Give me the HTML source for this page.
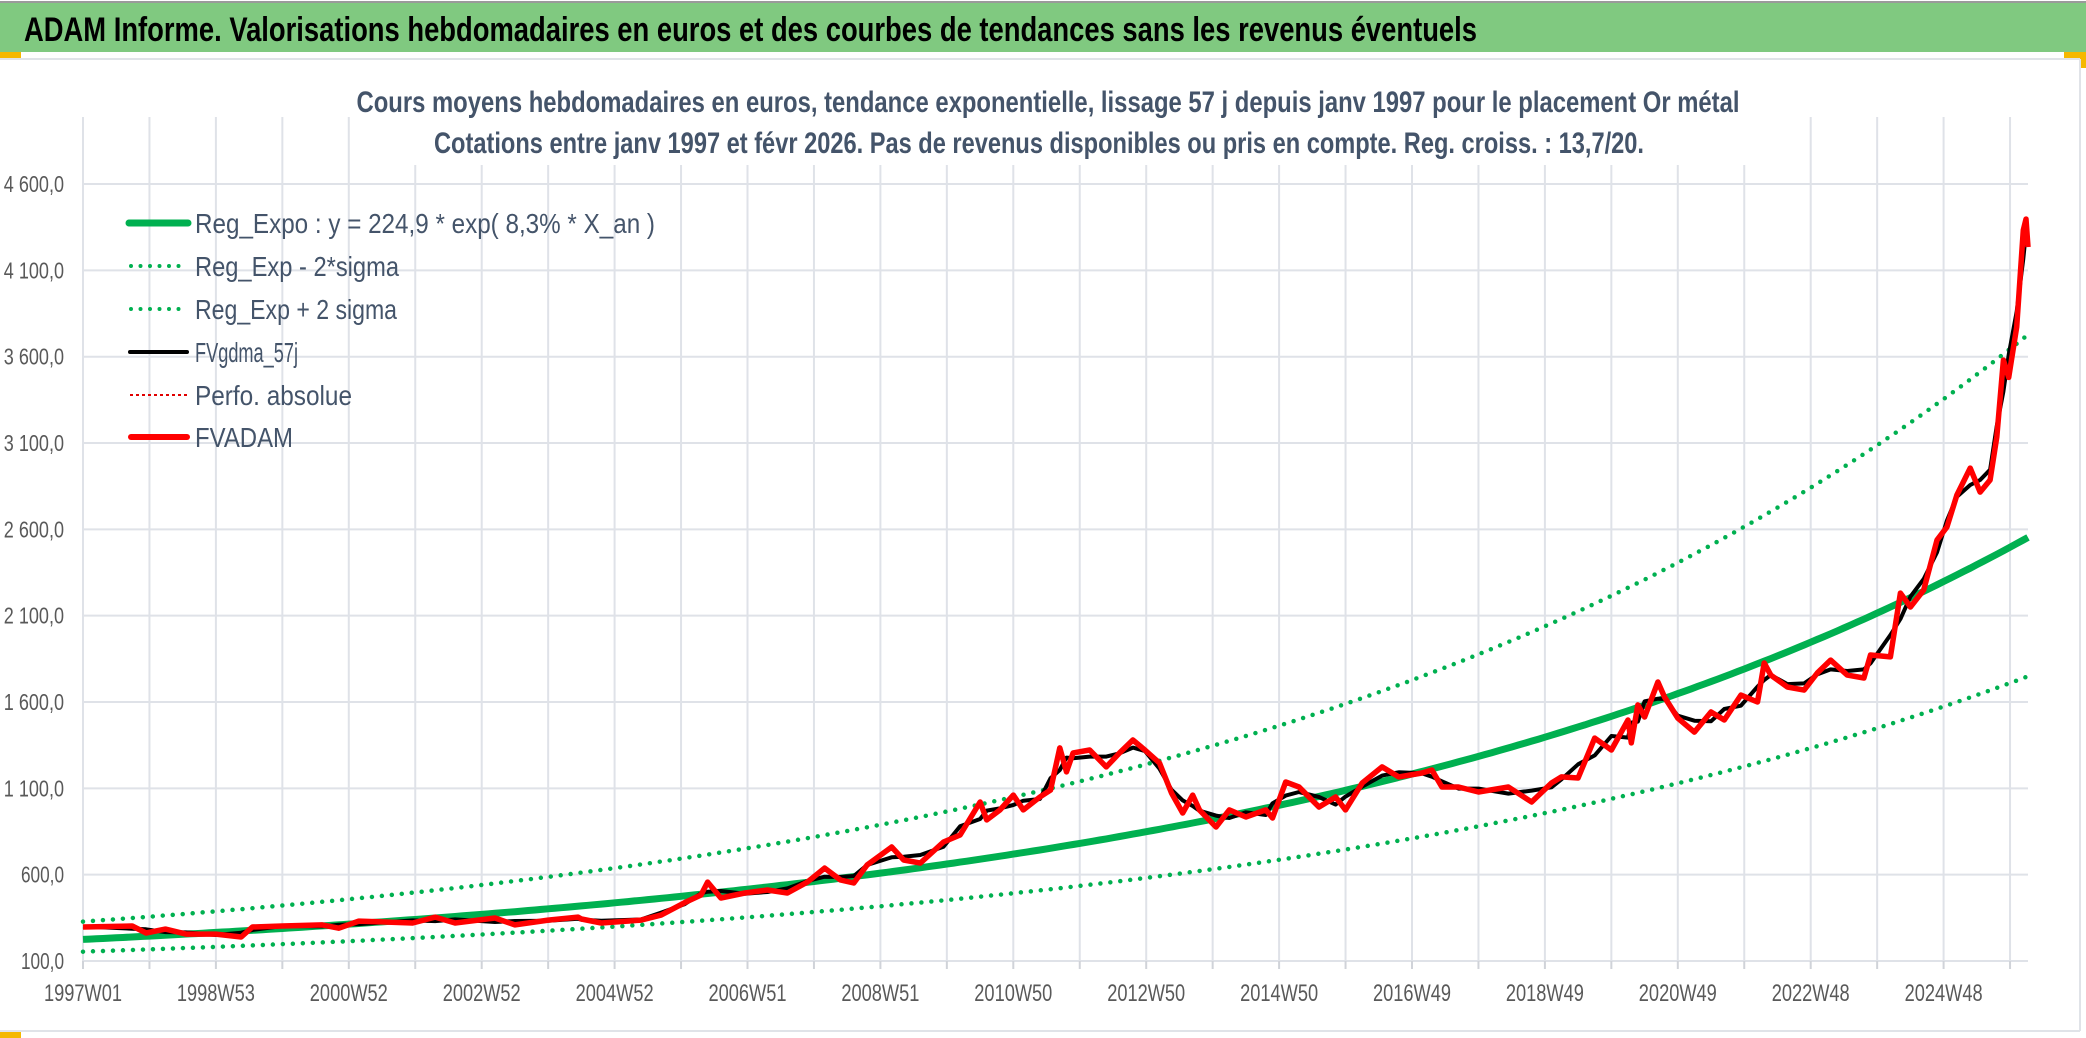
<!DOCTYPE html>
<html><head><meta charset="utf-8"><style>
html,body{margin:0;padding:0;background:#fff;}
svg{display:block;}
text{font-family:"Liberation Sans Narrow","Liberation Sans",sans-serif;}
</style></head><body>
<svg id="chart" width="2086" height="1038" viewBox="0 0 2086 1038" xmlns="http://www.w3.org/2000/svg">
  <rect x="0" y="0" width="2086" height="1038" fill="#fff"/>
  <rect x="0" y="2" width="2086" height="50" fill="#80c980"/>
  <line x1="0" y1="2" x2="2086" y2="2" stroke="#9a9a9a" stroke-width="2"/>
  <text x="24" y="41" font-size="34" font-weight="bold" fill="#000" textLength="1453" lengthAdjust="spacingAndGlyphs">ADAM Informe. Valorisations hebdomadaires en euros et des courbes de tendances sans les revenus éventuels</text>
  <rect x="0" y="52" width="21" height="6" fill="#f5b800"/>
  <rect x="2064" y="52" width="22" height="6" fill="#f5b800"/>
  <rect x="2080" y="52" width="6" height="16" fill="#f5b800"/>
  <line x1="0" y1="59" x2="2080" y2="59" stroke="#e0e3e8" stroke-width="2"/>
  <line x1="2080" y1="59" x2="2080" y2="1031" stroke="#e0e3e8" stroke-width="2"/>
  <line x1="0" y1="1031" x2="2080" y2="1031" stroke="#e0e3e8" stroke-width="2"/>
  <rect x="0" y="1032" width="21" height="6" fill="#f5b800"/>
  <g id="grid"></g>
  <rect x="350" y="62" width="1400" height="103" fill="#fff"/>
  <text x="1048" y="112" font-size="30" font-weight="bold" fill="#44546a" text-anchor="middle" textLength="1383" lengthAdjust="spacingAndGlyphs">Cours moyens hebdomadaires en euros, tendance exponentielle, lissage 57 j depuis janv 1997 pour le placement Or métal</text>
  <text x="1039" y="153" font-size="30" font-weight="bold" fill="#44546a" text-anchor="middle" textLength="1210" lengthAdjust="spacingAndGlyphs">Cotations entre janv 1997 et févr 2026. Pas de revenus disponibles ou pris en compte. Reg. croiss. : 13,7/20.</text>
  <g id="axes"></g>
  <g id="series"></g>
  <g id="legend">
    <g>
      <line x1="129" y1="223" x2="188" y2="223" stroke="#00b050" stroke-width="7" stroke-linecap="round"/>
      <text x="195" y="233" font-size="28" fill="#44546a" textLength="460" lengthAdjust="spacingAndGlyphs">Reg_Expo : y = 224,9 * exp( 8,3% *  X_an )</text>
    </g>
    <g>
      <line x1="131" y1="266" x2="188" y2="266" stroke="#00b050" stroke-width="4" stroke-linecap="round" stroke-dasharray="0 9.5"/>
      <text x="195" y="276" font-size="28" fill="#44546a" textLength="204" lengthAdjust="spacingAndGlyphs">Reg_Exp - 2*sigma</text>
    </g>
    <g>
      <line x1="131" y1="309" x2="188" y2="309" stroke="#00b050" stroke-width="4" stroke-linecap="round" stroke-dasharray="0 9.5"/>
      <text x="195" y="319" font-size="28" fill="#44546a" textLength="202" lengthAdjust="spacingAndGlyphs">Reg_Exp + 2 sigma</text>
    </g>
    <g>
      <line x1="130" y1="352" x2="187" y2="352" stroke="#000" stroke-width="4" stroke-linecap="round"/>
      <text x="195" y="362" font-size="28" fill="#44546a" textLength="103" lengthAdjust="spacingAndGlyphs">FVgdma_57j</text>
    </g>
    <g>
      <line x1="130" y1="395" x2="188" y2="395" stroke="#e00000" stroke-width="2" stroke-dasharray="3 3"/>
      <text x="195" y="405" font-size="28" fill="#44546a" textLength="157" lengthAdjust="spacingAndGlyphs">Perfo. absolue</text>
    </g>
    <g>
      <line x1="131" y1="437" x2="187" y2="437" stroke="#ff0000" stroke-width="6" stroke-linecap="round"/>
      <text x="195" y="447" font-size="28" fill="#44546a" textLength="98" lengthAdjust="spacingAndGlyphs">FVADAM</text>
    </g>
  </g>
</svg>
<script>
// ---- data ----
const yTicks = [100, 600, 1100, 1600, 2100, 2600, 3100, 3600, 4100, 4600];
const yTickLabels = ["100,0","600,0","1 100,0","1 600,0","2 100,0","2 600,0","3 100,0","3 600,0","4 100,0","4 600,0"];
const xTickLabels = ["1997W01","1998W53","2000W52","2002W52","2004W52","2006W51","2008W51","2010W50","2012W50","2014W50","2016W49","2018W49","2020W49","2022W48","2024W48"];
const regA = 224.9;
const regRate = 0.083;
const sigmaFactor = 1.46;
const endYears = 29.27;
// years since Jan 1997
const priceT = [0,0.74,0.95,1.24,1.55,2.0,2.38,2.55,3.0,3.6,3.85,4.15,4.96,5.3,5.6,6.2,6.5,7.0,7.45,7.5,7.8,8.4,8.7,9.05,9.3,9.4,9.6,9.96,10.3,10.6,10.9,11.16,11.4,11.6,11.8,12.17,12.35,12.6,12.95,13.2,13.5,13.6,13.8,14.0,14.15,14.4,14.56,14.7,14.8,14.9,15.15,15.4,15.6,15.8,15.98,16.2,16.38,16.55,16.7,16.8,17.05,17.25,17.5,17.8,17.9,18.1,18.3,18.6,18.85,19.0,19.25,19.55,19.8,20.15,20.3,20.45,20.7,21.0,21.45,21.8,22.1,22.25,22.5,22.75,23.0,23.25,23.3,23.4,23.5,23.7,23.8,24.0,24.25,24.5,24.7,24.95,25.2,25.3,25.4,25.65,25.9,26.1,26.3,26.55,26.8,26.9,27.2,27.35,27.5,27.7,27.9,28.05,28.2,28.4,28.55,28.7,28.8,28.9,28.98,29.1,29.2,29.24,29.27];
const priceV = [297,303,262,285,256,256,239,297,303,309,290,331,320,354,320,349,309,337,354,343,320,337,366,437,482,557,465,494,511,494,557,638,569,552,656,760,685,667,789,830,1021,917,975,1061,975,1050,1090,1334,1195,1305,1322,1224,1305,1380,1322,1247,1073,957,1061,975,876,975,934,975,928,1137,1108,992,1050,975,1131,1224,1166,1189,1206,1108,1108,1079,1108,1021,1131,1166,1160,1391,1322,1496,1363,1583,1513,1716,1629,1507,1426,1542,1496,1640,1600,1826,1756,1687,1669,1768,1843,1756,1739,1872,1861,2231,2150,2249,2538,2613,2799,2955,2816,2886,3135,3580,3480,3772,4333,4397,4235];

// ---- scales ----
const X0 = 83, PX_PER_YEAR = 66.45, Y0 = 961, PX_PER_UNIT = 86.33/500;
const xs = t => X0 + t*PX_PER_YEAR;
const ys = v => Y0 - (v-100)*PX_PER_UNIT;
const NS = "http://www.w3.org/2000/svg";
const mk = (tag, attrs, parent) => { const e = document.createElementNS(NS, tag); for (const k in attrs) e.setAttribute(k, attrs[k]); parent.appendChild(e); return e; };

const grid = document.getElementById('grid');
const axes = document.getElementById('axes');
const series = document.getElementById('series');
const XR = xs(endYears);

yTicks.forEach((v, i) => {
  const l = mk('line', {x1: X0, x2: XR, y1: ys(v), y2: ys(v), stroke: '#dfe2e8', 'stroke-width': 2}, grid);
  
  
  const lab = yTickLabels[i];
  const w = lab.length * 8.6;
  const t = mk('text', {x: 64 - w, y: ys(v)+8, 'font-size': 23, fill: '#595959', textLength: w, lengthAdjust: 'spacingAndGlyphs'}, axes);
  t.textContent = lab;
  
  
});
for (let k = 0; k <= 29; k++) {
  const x = xs(k);
  const l = mk('line', {x1: x, x2: x, y1: 117, y2: Y0, stroke: '#dfe2e8', 'stroke-width': 2}, grid);
  
  
  const tk = mk('line', {x1: x, x2: x, y1: Y0, y2: Y0+8, stroke: '#d0d3d9', 'stroke-width': 2}, axes);
  
  
}
xTickLabels.forEach((s, i) => {
  const t = mk('text', {x: xs(i*2) - 39, y: 1001, 'font-size': 24, fill: '#595959', textLength: 78, lengthAdjust: 'spacingAndGlyphs'}, axes);
  t.textContent = s;
  
  
});

// regression curves
function curve(f) { const p = []; for (let t = 0; t <= endYears + 1e-9; t += 0.1) p.push(xs(t).toFixed(1)+','+ys(f(t)).toFixed(1)); p.push(xs(endYears).toFixed(1)+','+ys(f(endYears)).toFixed(1)); return p.join(' '); }
const reg = t => regA*Math.exp(regRate*t);
const lo = mk('polyline', {points: curve(t => reg(t)/sigmaFactor), fill: 'none', stroke: '#00b050', 'stroke-width': 4.5, 'stroke-linecap': 'round', 'stroke-dasharray': '0 10'}, series);


const hi = mk('polyline', {points: curve(t => reg(t)*sigmaFactor), fill: 'none', stroke: '#00b050', 'stroke-width': 4.5, 'stroke-linecap': 'round', 'stroke-dasharray': '0 10'}, series);


const rg = mk('polyline', {points: curve(reg), fill: 'none', stroke: '#00b050', 'stroke-width': 7}, series);



// smoothed (moving average of neighbours)
const smooth = priceV.map((v, i) => { let s = 0, n = 0; for (let j = Math.max(0, i-1); j <= Math.min(priceV.length-1, i+1); j++) { s += priceV[j]; n++; } return s/n; });
const sm = mk('polyline', {points: priceT.map((t, i) => xs(t).toFixed(1)+','+ys(smooth[i]).toFixed(1)).join(' '), fill: 'none', stroke: '#000', 'stroke-width': 4, 'stroke-linejoin': 'round'}, series);


const pr = mk('polyline', {points: priceT.map((t, i) => xs(t).toFixed(1)+','+ys(priceV[i]).toFixed(1)).join(' '), fill: 'none', stroke: '#ff0000', 'stroke-width': 5.5, 'stroke-linejoin': 'round'}, series);


</script>
</body></html>
